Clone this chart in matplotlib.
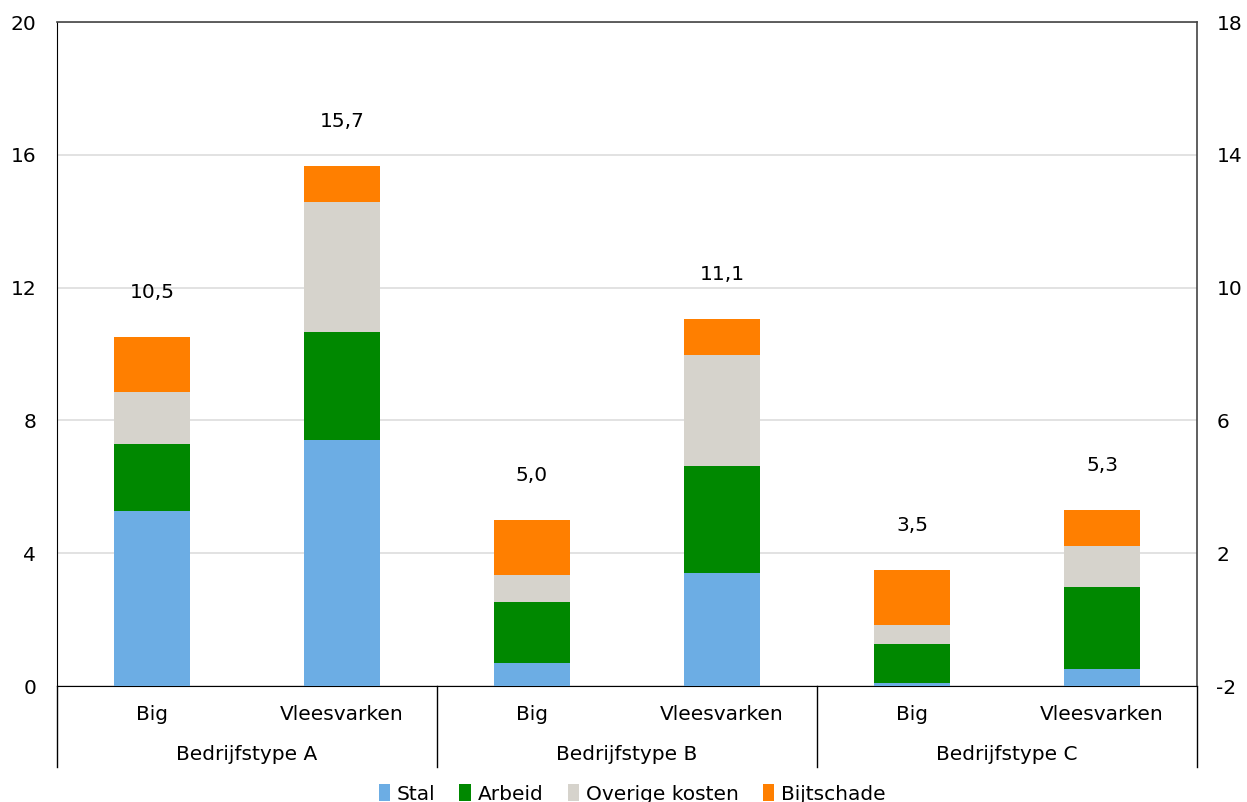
import matplotlib
matplotlib.use("Agg")
import matplotlib.pyplot as plt
import numpy as np

groups = ["Bedrijfstype A", "Bedrijfstype B", "Bedrijfstype C"]
subcats = ["Big", "Vleesvarken"]
series_names = ["Stal", "Arbeid", "Overige kosten", "Bijtschade"]
stal = [5.27, 7.41, 0.69, 3.40, 0.09, 0.51]
arbeid = [2.02, 3.25, 1.84, 3.23, 1.18, 2.47]
overige = [1.57, 3.92, 0.81, 3.34, 0.57, 1.24]
bijtschade = [1.65, 1.08, 1.66, 1.08, 1.65, 1.08]
totals = ["10,5", "15,7", "5,0", "11,1", "3,5", "5,3"]
colors = ["#6CADE4", "#008800", "#D6D3CC", "#FF7F00"]

plt.rcParams['font.family'] = ['DejaVu Sans']
plt.rcParams['axes.unicode_minus'] = False
FS = 14.5
fig = plt.figure(figsize=(12.47, 8.02), dpi=100)
ax = fig.add_axes([57/1247, 1-686/802, (1197-57)/1247, (686-22)/802])

x = np.arange(len(stal))
bottom = np.zeros(len(stal))
handles = []
for vals, name, c in zip([stal, arbeid, overige, bijtschade], series_names, colors):
    b = ax.bar(x, vals, width=0.4, bottom=bottom, color=c, label=name, zorder=3)
    handles.append(b)
    bottom = bottom + np.array(vals)

for xi, top, lab in zip(x, bottom, totals):
    ax.annotate(lab, (xi, top), xytext=(0, 32), textcoords="offset points",
                ha="center", va="center", fontsize=FS)

ax.set_xlim(-0.5, 5.5)
ax.set_ylim(0, 20)
ax.set_yticks(range(0, 21, 4))
ax.yaxis.grid(True, color="#DDDDDD", linewidth=1.2, zorder=0)
ax.tick_params(axis="y", length=0, pad=15, labelsize=FS)
ax.set_xticks([])
for s in ["top", "right"]:
    ax.spines[s].set_color("#444444")
    ax.spines[s].set_linewidth(1.2)
ax.spines["left"].set_color("black")
ax.spines["bottom"].set_color("black")

ax2 = ax.twinx()
ax2.set_ylim(-2, 18)
ax2.set_yticks(range(-2, 19, 4))
ax2.tick_params(axis="y", length=0, pad=14, labelsize=FS)
for s in ax2.spines.values():
    s.set_visible(False)

trans = ax.get_xaxis_transform()
sub_y = -(714-686)/664
grp_y = -(755-686)/664
line_bottom = -(767-686)/664
for xi in x:
    ax.text(xi, sub_y, subcats[xi % 2], transform=trans, ha="center", va="center", fontsize=FS)
for gi, g in enumerate(groups):
    ax.text(2*gi+0.5, grp_y, g, transform=trans, ha="center", va="center", fontsize=FS)
for bx in [-0.5, 1.5, 3.5, 5.5]:
    ax.plot([bx, bx], [0, line_bottom], transform=trans, color="black", linewidth=1, clip_on=False)

fig.legend(handles=handles, labels=series_names, loc="center", bbox_to_anchor=(632/1247, 1-794/802),
           ncol=4, frameon=False, fontsize=FS, handlelength=0.55, handleheight=0.85,
           handletextpad=0.35, columnspacing=1.2)

fig.savefig("out.png", dpi=100)
